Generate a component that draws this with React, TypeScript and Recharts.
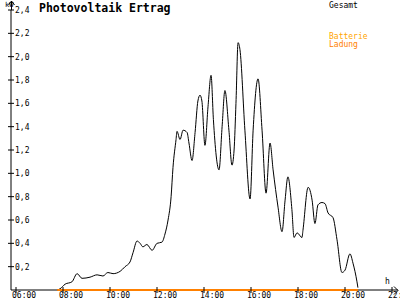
import * as React from "react";
import { LineChart, Line, XAxis, YAxis } from "recharts";

// time of day in hours, total output in kW
const hours = [
  7.75, 7.87, 8.09, 8.38, 8.6, 8.81, 9.15, 9.45, 9.7, 9.91, 10.13, 10.43,
  10.64, 10.85, 10.98, 11.15, 11.28, 11.4, 11.57, 11.79, 12.0, 12.21, 12.34,
  12.47, 12.6, 12.68, 12.81, 12.85, 12.98, 13.11, 13.28, 13.36, 13.49, 13.62,
  13.74, 13.83, 13.91, 14.04, 14.17, 14.3, 14.4, 14.64, 14.77, 14.89, 15.06,
  15.19, 15.28, 15.36, 15.45, 15.53, 15.74, 15.96, 16.09, 16.3, 16.47, 16.64,
  16.81, 16.94, 17.15, 17.32, 17.45, 17.57, 17.74, 17.83, 17.96, 18.17, 18.21,
  18.43, 18.6, 18.72, 18.85, 19.02, 19.15, 19.28, 19.49, 19.66, 19.87, 20.0,
  20.21, 20.34, 20.51, 20.55
];
const gesamt = [
  0, 0.01, 0.05, 0.07, 0.14, 0.1, 0.11, 0.13, 0.12, 0.15, 0.14, 0.16, 0.2,
  0.24, 0.32, 0.42, 0.4, 0.37, 0.39, 0.34, 0.4, 0.41, 0.48, 0.6, 0.8, 1.05,
  1.29, 1.36, 1.29, 1.37, 1.35, 1.26, 1.11, 1.35, 1.62, 1.67, 1.62, 1.24, 1.57,
  1.84, 1.46, 1.03, 1.4, 1.71, 1.37, 1.07, 1.2, 1.6, 2.12, 2.06, 1.37, 0.78,
  1.37, 1.81, 1.37, 0.83, 1.26, 1.03, 0.71, 0.5, 0.77, 0.97, 0.69, 0.45, 0.49,
  0.45, 0.51, 0.88, 0.77, 0.57, 0.73, 0.75, 0.74, 0.66, 0.62, 0.43, 0.15, 0.17,
  0.31, 0.23, 0.07, 0.02
];

// battery charging stays at zero all day
const ladungHours = [7.75, 20.55];
const ladung = [0, 0];

const xTicks = [6, 8, 10, 12, 14, 16, 18, 20, 22];
const yTicks = [0.2, 0.4, 0.6, 0.8, 1.0, 1.2, 1.4, 1.6, 1.8, 2.0, 2.2, 2.4];

const gesamtData = hours.map((h, i) => ({ h, v: gesamt[i] }));
const ladungData = ladungHours.map((h, i) => ({ h, v: ladung[i] }));

const mono = "DejaVu Sans Mono, Liberation Mono, monospace";

const XTick = (props: any) => {
  const { x, y, payload } = props;
  const label = String(payload.value).padStart(2, "0") + ":00";
  return (
    <g>
      <line x1={x} x2={x} y1={y - 3} y2={y + 3} stroke="#000" />
      <text x={x - 4} y={y + 8} fontSize={8} fontFamily={mono} fill="#000">
        {label}
      </text>
    </g>
  );
};

const YTick = (props: any) => {
  const { x, y, payload } = props;
  return (
    <g>
      <line x1={x - 3} x2={x + 3} y1={y} y2={y} stroke="#000" />
      <text x={x + 4} y={y + 3} fontSize={8} fontFamily={mono} fill="#000">
        {payload.value.toFixed(1).replace(".", ",")}
      </text>
    </g>
  );
};

export default function App() {
  return (
    <div
      style={{
        position: "absolute",
        left: 0,
        top: 0,
        width: 400,
        height: 300,
        background: "#fff"
      }}
    >
      {/* x axis baseline sits underneath the series so the orange line covers it */}
      <svg
        width={400}
        height={300}
        style={{ position: "absolute", left: 0, top: 0 }}
      >
        <line x1={11} x2={398} y1={290} y2={290} stroke="#000" />
      </svg>

      <div style={{ position: "absolute", left: 0, top: 0 }}>
        <LineChart
          width={400}
          height={300}
          margin={{ top: 10, right: 2, bottom: 0, left: 0 }}
        >
          <XAxis
            type="number"
            dataKey="h"
            domain={[5.787, 22.255]}
            ticks={xTicks}
            allowDataOverflow
            height={10}
            tickSize={0}
            tickMargin={0}
            tickLine={false}
            axisLine={false}
            tick={<XTick />}
            interval={0}
          />
          <YAxis
            type="number"
            domain={[0, 2.4]}
            ticks={yTicks}
            width={11}
            tickSize={0}
            tickMargin={0}
            tickLine={false}
            axisLine={{ stroke: "#000" }}
            tick={<YTick />}
            interval={0}
          />
          <Line
            data={gesamtData}
            dataKey="v"
            type="monotone"
            stroke="#000"
            strokeWidth={1}
            dot={false}
            activeDot={false}
            isAnimationActive={false}
          />
          <Line
            data={ladungData}
            dataKey="v"
            type="linear"
            stroke="#ff8000"
            strokeWidth={2}
            dot={false}
            activeDot={false}
            isAnimationActive={false}
          />
        </LineChart>
      </div>

      <svg
        width={400}
        height={300}
        style={{ position: "absolute", left: 0, top: 0, pointerEvents: "none" }}
      >
        {/* axis arrows */}
        <line x1={11.5} x2={11.5} y1={10} y2={1} stroke="#000" />
        <polyline points="8.5,5 11.5,1 14.5,5" fill="none" stroke="#000" />
        <polyline points="394,286.5 398,290.5 394,294.5" fill="none" stroke="#000" />
        <text x={5} y={7} fontSize={7} fontFamily={mono} fill="#000">kW</text>
        <text x={385} y={284} fontSize={8} fontFamily={mono} fill="#000">h</text>
        <text
          x={39}
          y={12}
          fontSize={11.5}
          fontWeight="bold"
          fontFamily={mono}
          fill="#000"
        >
          Photovoltaik Ertrag
        </text>
        <text x={329} y={8} fontSize={8} fontFamily={mono} fill="#000">Gesamt</text>
        <text x={329} y={39} fontSize={8} fontFamily={mono} fill="#ffa500">Batterie</text>
        <text x={329} y={47} fontSize={8} fontFamily={mono} fill="#ff8000">Ladung</text>
      </svg>
    </div>
  );
}
